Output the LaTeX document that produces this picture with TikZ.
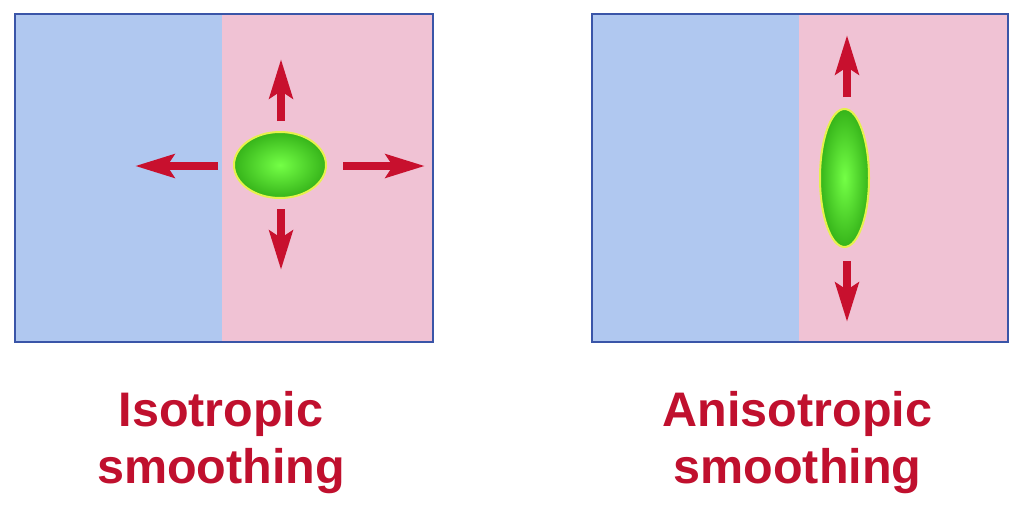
\documentclass[tikz,border=0pt]{standalone}
\usepackage{fontspec}
\setmainfont{Liberation Sans}
\usetikzlibrary{arrows.meta,shapes.geometric}
\definecolor{bluefill}{HTML}{B0C8F0}
\definecolor{pinkfill}{HTML}{F0C2D4}
\definecolor{frame}{HTML}{3A55A8}
\definecolor{arrowred}{HTML}{C8102E}
\definecolor{textred}{HTML}{C0102E}
\definecolor{greenlight}{HTML}{74FF46}
\definecolor{greendark}{HTML}{36B41A}
\definecolor{rimyellow}{HTML}{E6F24C}
\tikzset{
  bigarrow/.style={draw=arrowred, line width=8pt,
    -{Stealth[length=39pt,width=23pt,inset=7pt]}},
  blob/.style={ellipse, inner sep=0pt, draw=rimyellow, line width=2pt,
    inner color=greenlight, outer color=greendark},
  caption/.style={font=\fontsize{48.5}{57}\selectfont\bfseries, text=textred,
    align=center},
}
\begin{document}
\begin{tikzpicture}[x=1pt,y=-1pt]
\useasboundingbox[fill=white] (0,0) rectangle (1028,506);
% left panel
\fill[bluefill] (15,14) rectangle (222,342);
\fill[pinkfill] (222,14) rectangle (433,342);
\draw[frame, line width=1.2pt] (15,14) rectangle (433,342);
% right panel
\fill[bluefill] (592,14) rectangle (799,342);
\fill[pinkfill] (799,14) rectangle (1008,342);
\draw[frame, line width=1.2pt] (592,14) rectangle (1008,342);
% left blob and arrows
\node[blob, minimum width=92pt, minimum height=66pt] (iso) at (280,165) {};
\coordinate (isoUb) at (281,121);
\coordinate (isoUt) at (281,59);
\coordinate (isoDb) at (281,209);
\coordinate (isoDt) at (281,270);
\coordinate (isoLb) at (218,166);
\coordinate (isoLt) at (135,166);
\coordinate (isoRb) at (343,166);
\coordinate (isoRt) at (425,166);
\draw[bigarrow] (isoUb) -- (isoUt);
\draw[bigarrow] (isoDb) -- (isoDt);
\draw[bigarrow] (isoLb) -- (isoLt);
\draw[bigarrow] (isoRb) -- (isoRt);
% right blob and arrows
\node[blob, minimum width=49pt, minimum height=138pt] (aniso) at (844.5,178) {};
\coordinate (anUb) at (847,97);
\coordinate (anUt) at (847,35);
\coordinate (anDb) at (847,261);
\coordinate (anDt) at (847,322);
\draw[bigarrow] (anUb) -- (anUt);
\draw[bigarrow] (anDb) -- (anDt);
% captions
\node[caption] (isocap) at (221,443) {Isotropic\\smoothing};
\node[caption] (anisocap) at (797.5,443) {Anisotropic\\smoothing};
\end{tikzpicture}
\end{document}
